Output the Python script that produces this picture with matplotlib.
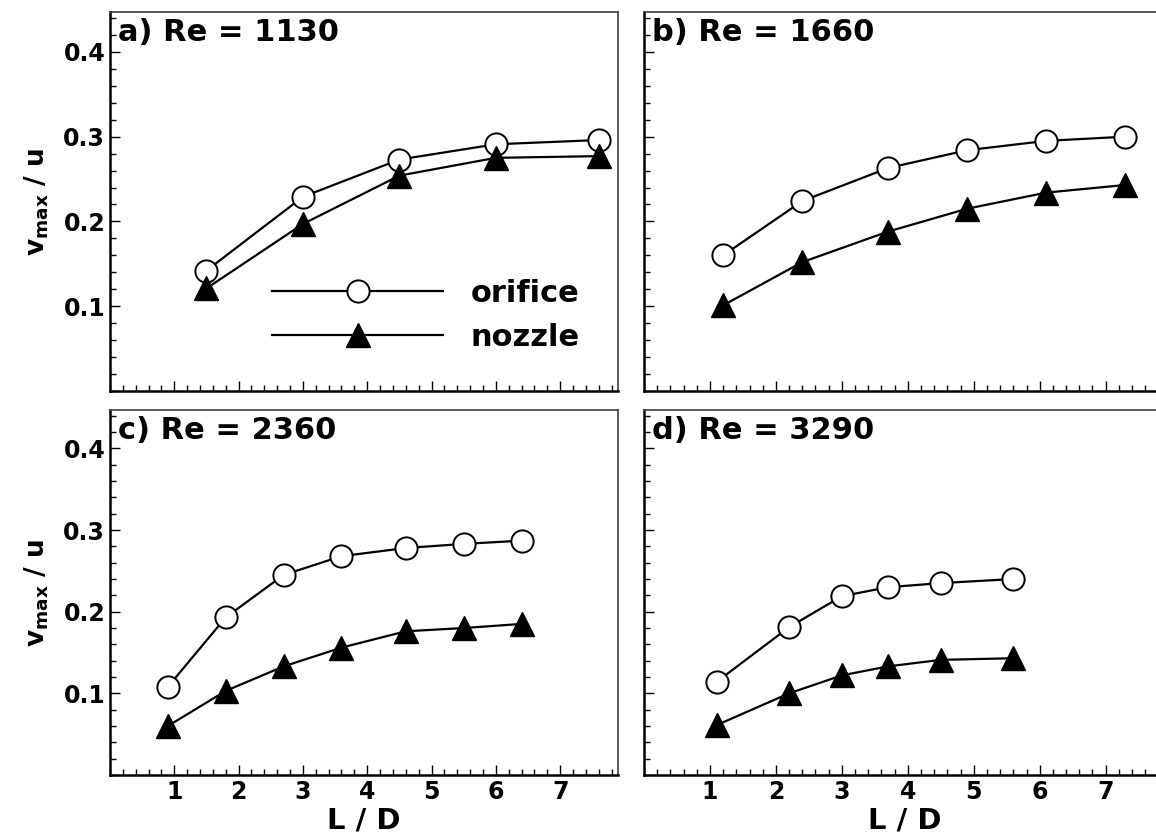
import matplotlib
matplotlib.use("Agg")
import matplotlib.pyplot as plt
from matplotlib.ticker import MultipleLocator
from matplotlib.transforms import offset_copy

plt.rcParams['font.family'] = ['DejaVu Sans']
plt.rcParams['font.weight'] = 'bold'
plt.rcParams['mathtext.default'] = 'bf'

# ---- data ----
titles = ["a) Re = 1130", "b) Re = 1660", "c) Re = 2360", "d) Re = 3290"]

x_a = [1.5, 3.0, 4.5, 6.0, 7.6]
orifice_a = [0.142, 0.229, 0.273, 0.291, 0.296]
nozzle_a = [0.121, 0.197, 0.254, 0.275, 0.277]

x_b = [1.2, 2.4, 3.7, 4.9, 6.1, 7.3]
orifice_b = [0.160, 0.224, 0.263, 0.284, 0.295, 0.300]
nozzle_b = [0.101, 0.152, 0.188, 0.215, 0.234, 0.243]

x_c = [0.9, 1.8, 2.7, 3.6, 4.6, 5.5, 6.4]
orifice_c = [0.108, 0.193, 0.245, 0.268, 0.278, 0.283, 0.287]
nozzle_c = [0.060, 0.103, 0.133, 0.156, 0.176, 0.180, 0.185]

x_d = [1.1, 2.2, 3.0, 3.7, 4.5, 5.6]
orifice_d = [0.114, 0.181, 0.219, 0.230, 0.235, 0.240]
nozzle_d = [0.061, 0.100, 0.122, 0.133, 0.141, 0.143]

xticks = [1, 2, 3, 4, 5, 6, 7]
yticks = [0.1, 0.2, 0.3, 0.4]
series_labels = ["orifice", "nozzle"]

W, H = 1156, 834
fig = plt.figure(figsize=(W / 100, H / 100), dpi=100)

def rect(l, t, r, b):
    return [l / W, (H - b) / H, (r - l) / W, (b - t) / H]

boxes = [rect(110, 12, 618, 391), rect(644, 12, 1165, 391),
         rect(110, 410, 618, 775), rect(644, 410, 1165, 775)]
data = [(x_a, orifice_a, nozzle_a), (x_b, orifice_b, nozzle_b),
        (x_c, orifice_c, nozzle_c), (x_d, orifice_d, nozzle_d)]

for i, (box, (xs, yo, yn), title) in enumerate(zip(boxes, data, titles)):
    ax = fig.add_axes(box)
    ax.plot(xs, yo, '-o', color='black', lw=1.6, ms=16, mfc='white',
            mec='black', mew=1.4, label=series_labels[0], zorder=3)
    ax.plot(xs, yn, '-^', color='black', lw=1.6, ms=17.5, mfc='black',
            mec='black', mew=1.0, label=series_labels[1], zorder=3)
    ax.set_xlim(0, 7.9)
    ax.set_ylim(0, 0.447)
    ax.set_xticks(xticks)
    ax.set_yticks(yticks)
    ax.xaxis.set_minor_locator(MultipleLocator(0.2))
    ax.yaxis.set_minor_locator(MultipleLocator(0.02))
    ax.tick_params(which='both', direction='in', top=False, right=False,
                   width=1.0, labelsize=17)
    ax.tick_params(which='major', length=7)
    ax.tick_params(which='minor', length=4)
    for s in ['left', 'bottom']:
        ax.spines[s].set_linewidth(1.8)
        ax.spines[s].set_color('black')
    for s in ['top', 'right']:
        ax.spines[s].set_linewidth(1.2)
        ax.spines[s].set_color('#404040')
    if i in (0, 1):
        ax.set_xticklabels([])
    else:
        ax.set_xlabel("L / D", fontsize=21, fontweight='bold', labelpad=2)
    if i in (1, 3):
        ax.set_yticklabels([])
    else:
        ax.set_ylabel(r"$v_{max}$ / u", fontsize=19, fontweight='bold', labelpad=9)
    tr = offset_copy(ax.transAxes, fig=fig, x=0, y=-6, units='dots')
    ax.text(0.015, 1.0, title, transform=tr, ha='left', va='top',
            fontsize=22, fontweight='bold')
    if i == 0:
        ax.legend(loc='upper left', bbox_to_anchor=(0.319, 0.296), frameon=False,
                  fontsize=22, handlelength=5.6, handletextpad=0.9,
                  labelspacing=0.5, numpoints=1, borderpad=0, borderaxespad=0)

fig.savefig("out.png", dpi=100)
